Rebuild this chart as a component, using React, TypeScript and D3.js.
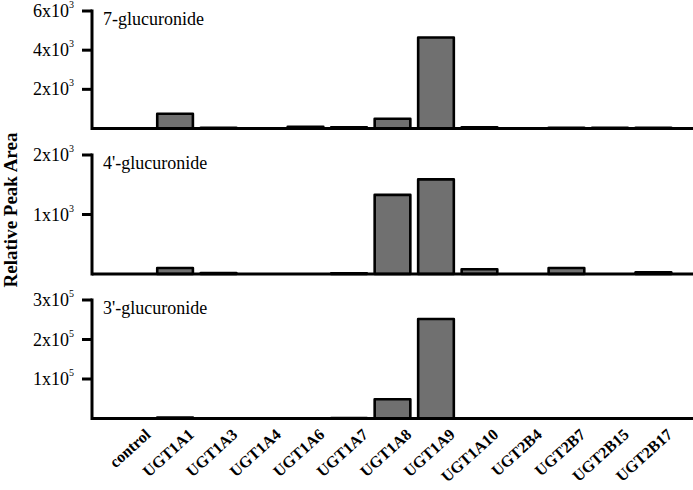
import React from "react";
import * as d3 from "d3";

const categories = ["control","UGT1A1","UGT1A3","UGT1A4","UGT1A6","UGT1A7","UGT1A8","UGT1A9","UGT1A10","UGT2B4","UGT2B7","UGT2B15","UGT2B17"];
const glucuronide7 = [0, 750, 40, 0, 90, 60, 500, 4650, 60, 0, 40, 40, 40];
const glucuronide4p = [0, 100, 18, 0, 0, 10, 1330, 1590, 80, 0, 100, 0, 28];
const glucuronide3p = [0, 2500, 0, 0, 0, 900, 48600, 252000, 0, 0, 800, 0, 0];
const panelNames = ["7-glucuronide", "4'-glucuronide", "3'-glucuronide"];
const ticks7 = [2000, 4000, 6000];
const ticks4p = [1000, 2000];
const ticks3p = [100000, 200000, 300000];
const yTitle = "Relative Peak Area";

const W = 693, H = 490;
const FONT = "'Liberation Serif', 'Times New Roman', Times, serif";

const panels = [
  { name: panelNames[0], values: glucuronide7, max: 6000, ticks: ticks7, y0: 128.5, y1: 11 },
  { name: panelNames[1], values: glucuronide4p, max: 2000, ticks: ticks4p, y0: 274, y1: 155 },
  { name: panelNames[2], values: glucuronide3p, max: 300000, ticks: ticks3p, y0: 418.5, y1: 300 },
];

function tickLabel(v: number) {
  const exp = Math.floor(Math.log10(v));
  const mant = Math.round(v / Math.pow(10, exp));
  return { mant: `${mant}x10`, exp: `${exp}` };
}

export default function App() {
  const axisX = 92;
  const x = d3.scaleBand<string>().domain(categories).range([axisX, W]).paddingOuter(0.5).paddingInner(0.18);
  return (
    <svg width={W} height={H} style={{ position: "absolute", left: 0, top: 0, background: "#fff" }} fontFamily={FONT}>
      {panels.map((p, pi) => {
        const y = d3.scaleLinear().domain([0, p.max]).range([p.y0, p.y1]);
        return (
          <g key={pi}>
            {p.values.map((v, i) => {
              if (v <= 0) return null;
              const bx = x(categories[i])!;
              const top = y(v);
              return (
                <rect key={i} x={bx} y={top} width={x.bandwidth()} height={Math.max(0, y(0) - top)}
                  fill="#707070" stroke="#000" strokeWidth={2.6} strokeLinejoin="round" />
              );
            })}
            <line x1={axisX} x2={W} y1={y(0)} y2={y(0)} stroke="#000" strokeWidth={3} />
            <line x1={axisX} x2={axisX} y1={y(p.max) - 1.5} y2={y(0) + 1.5} stroke="#000" strokeWidth={3} />
            {p.ticks.map((t) => {
              const lab = tickLabel(t);
              return (
                <g key={t}>
                  <line x1={axisX - 10} x2={axisX} y1={y(t)} y2={y(t)} stroke="#000" strokeWidth={3} />
                  <text x={axisX - 23} y={y(t) + 6} fontSize={18} textAnchor="end" fill="#000">{lab.mant}</text>
                  <text x={axisX - 23} y={y(t) - 3} fontSize={10} textAnchor="start" fill="#000">{lab.exp}</text>
                </g>
              );
            })}
            <text x={103} y={y(p.max) + 14} fontSize={18} fill="#000">{p.name}</text>
          </g>
        );
      })}
      {categories.map((c) => {
        const cx = x(c)! + x.bandwidth() / 2;
        return (
          <text key={c} transform={`translate(${cx + 20},${436}) rotate(-42)`} fontSize={16} fontWeight="bold" textAnchor="end" fill="#000">{c}</text>
        );
      })}
      <text transform={`translate(17,${210}) rotate(-90)`} fontSize={19} fontWeight="bold" textAnchor="middle" fill="#000">{yTitle}</text>
    </svg>
  );
}
